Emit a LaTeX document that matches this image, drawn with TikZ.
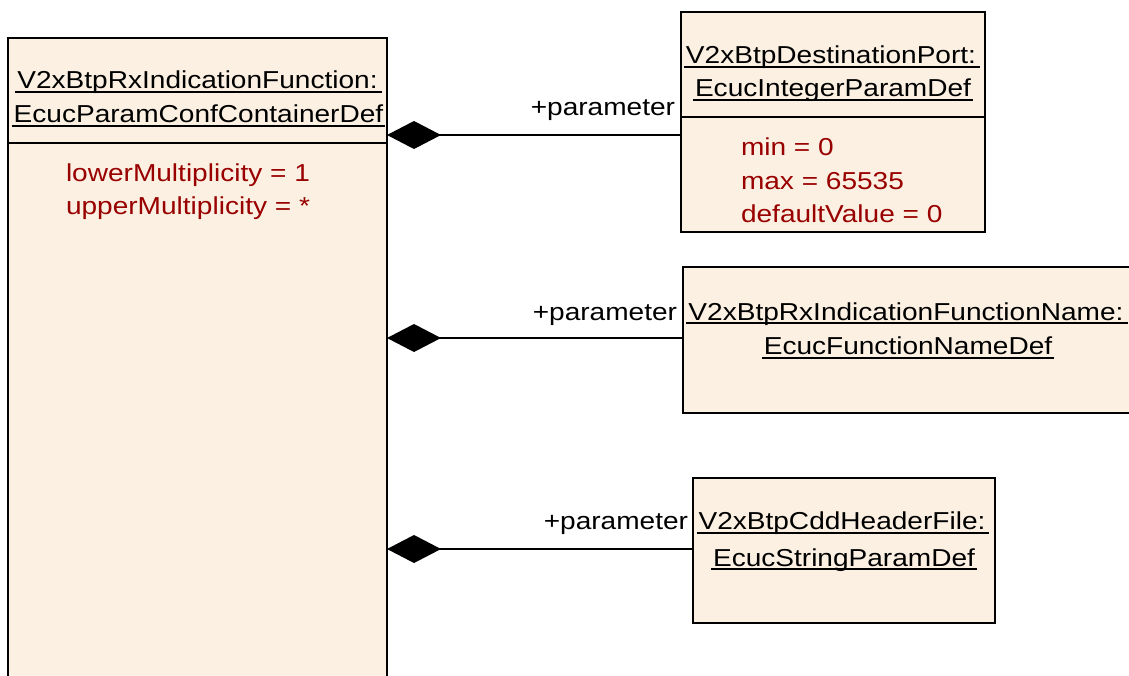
\documentclass[tikz,border=0pt]{standalone}
\usepackage{fontspec}
\setmainfont{Liberation Sans}[FakeStretch=1.145]
\usetikzlibrary{arrows.meta}
\definecolor{boxfill}{RGB}{251,240,226}
\definecolor{attr}{RGB}{153,0,0}
\begin{document}
\begin{tikzpicture}[x=1pt,y=-1pt,
  box/.style={draw=black,fill=boxfill,line width=2pt,rectangle,inner sep=0pt,outer sep=0pt},
  txt/.style={inner sep=0pt,outer sep=0pt,font=\fontsize{24.5}{29}\selectfont},
  attrtxt/.style={txt,text=attr,anchor=base west},
  titletxt/.style={txt,anchor=base},
  roletxt/.style={txt,anchor=base east},
  uline/.style={line width=1.6pt},
  sepline/.style={line width=2pt},
  comp/.style={line width=2pt,arrows={Diamond[length=54pt,width=28pt]-}}]
\useasboundingbox (0,0) rectangle (1129,675);
% main container
\node[box,minimum width=379pt,minimum height=700pt,anchor=north west] (lb) at (8,38) {};
\draw[sepline] (lb.west |- 0,143) -- (lb.east |- 0,143);
\node[titletxt] (lt1) at (197.5,88) {V2xBtpRxIndicationFunction:};
\node[titletxt] (lt2) at (198.5,122) {EcucParamConfContainerDef};
\draw[uline] ([shift={(-2,4)}]lt1.base west) -- ([shift={(4,4)}]lt1.base east);
\draw[uline] ([shift={(-2,4)}]lt2.base west) -- ([shift={(2,4)}]lt2.base east);
\node[attrtxt] (la1) at (66,181) {lowerMultiplicity = 1};
\node[attrtxt] (la2) at (66,214) {upperMultiplicity = *};
% box 1
\node[box,minimum width=304pt,minimum height=220pt] (b1) at (833,122) {};
\draw[sepline] (b1.west |- 0,117) -- (b1.east |- 0,117);
\node[titletxt] (b1t1) at (831,63) {V2xBtpDestinationPort:};
\node[titletxt] (b1t2) at (833,96) {EcucIntegerParamDef};
\draw[uline] ([shift={(-2,4)}]b1t1.base west) -- ([shift={(4,4)}]b1t1.base east);
\draw[uline] ([shift={(-2,4)}]b1t2.base west) -- ([shift={(2,4)}]b1t2.base east);
\node[attrtxt] (b1a1) at (741,155) {min = 0};
\node[attrtxt] (b1a2) at (741,189) {max = 65535};
\node[attrtxt] (b1a3) at (741,222) {defaultValue = 0};
% box 2
\node[box,minimum width=450pt,minimum height=146pt] (b2) at (908,340) {};
\node[titletxt] (b2t1) at (906,320) {V2xBtpRxIndicationFunctionName:};
\node[titletxt] (b2t2) at (908,354) {EcucFunctionNameDef};
\draw[uline] ([shift={(-2,3)}]b2t1.base west) -- ([shift={(4,3)}]b2t1.base east);
\draw[uline] ([shift={(-2,4)}]b2t2.base west) -- ([shift={(2,4)}]b2t2.base east);
% box 3
\node[box,minimum width=302pt,minimum height=145pt] (b3) at (844,550.5) {};
\node[titletxt] (b3t1) at (842,529) {V2xBtpCddHeaderFile:};
\node[titletxt] (b3t2) at (844,566) {EcucStringParamDef};
\draw[uline] ([shift={(-2,4)}]b3t1.base west) -- ([shift={(4,4)}]b3t1.base east);
\draw[uline] ([shift={(-2,3)}]b3t2.base west) -- ([shift={(2,3)}]b3t2.base east);
% connectors
\coordinate (j1) at (681,135);
\coordinate (j2) at (683,338);
\coordinate (j3) at (693,549);
\draw[comp] (lb.east |- j1) -- (b1.west |- j1);
\draw[comp] (lb.east |- j2) -- (b2.west |- j2);
\draw[comp] (lb.east |- j3) -- (b3.west |- j3);
\node[roletxt] (r1) at (675,115) {+parameter};
\node[roletxt] (r2) at (677,320) {+parameter};
\node[roletxt] (r3) at (688,529) {+parameter};
\end{tikzpicture}
\end{document}
